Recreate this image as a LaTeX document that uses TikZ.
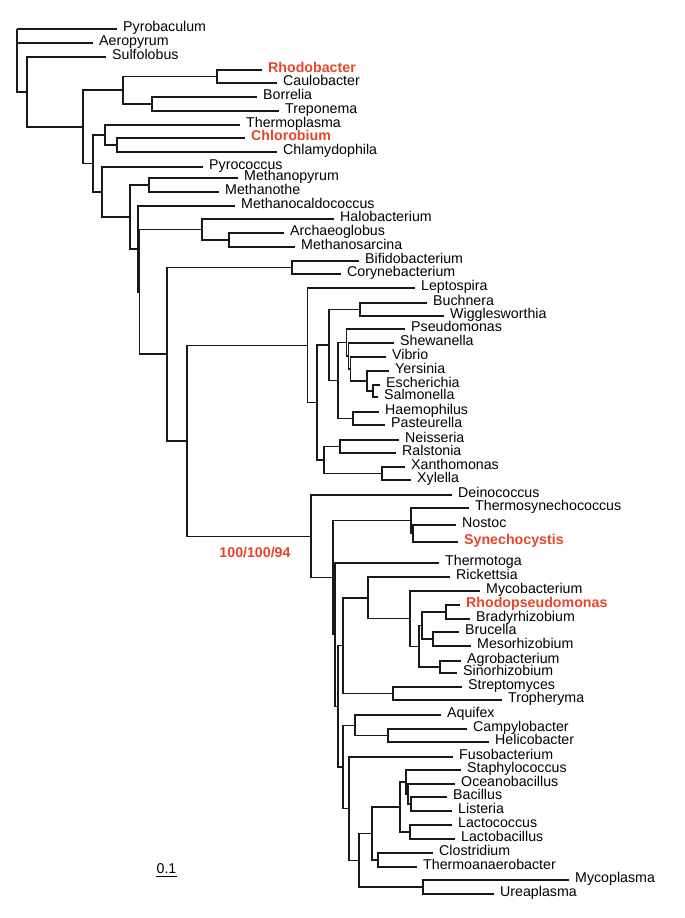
\documentclass[tikz,border=0pt]{standalone}
\usepackage{fontspec}
\setmainfont{Liberation Sans}
\definecolor{tred}{RGB}{232,68,44}
\newcommand\lbl{\fontsize{14.2}{16}\selectfont}
\tikzset{
  br/.style={line width=1.45pt, line join=miter, draw=black!90},
  leaf/.style={anchor=mid west, inner xsep=6pt, inner ysep=0pt, font=\lbl},
  hl/.style={leaf, text=tred, font=\lbl\bfseries},
}
\newcommand\lf[5][leaf]{\node[#1] (#2) at (#4,#3) {#5};}
\begin{document}
\begin{tikzpicture}[x=1pt,y=-1pt]
\useasboundingbox (0,0) rectangle (685,918);
% internal nodes
\coordinate (root) at (17,29);
\coordinate (n27) at (27,91.9);
\coordinate (n83) at (83,126.8);
\coordinate (n123) at (123,90);
\coordinate (n217) at (217,76.5);
\coordinate (n152) at (152,104);
\coordinate (n93) at (93,163.5);
\coordinate (n105) at (105,135);
\coordinate (n117) at (117,145);
\coordinate (n102) at (102,192);
\coordinate (n130) at (130,217);
\coordinate (n149) at (149,185);
\coordinate (nA) at (138,248.9);
\coordinate (nB) at (139.5,291.8);
\coordinate (n202) at (202,229.5);
\coordinate (n229) at (229,240);
\coordinate (n166) at (167,354.2);
\coordinate (n292) at (292,267.5);
\coordinate (n187) at (187,440.8);
\coordinate (n307) at (307.5,345.25);
\coordinate (n317) at (317,402.5);
\coordinate (n329) at (329,345);
\coordinate (n360) at (360,309.5);
\coordinate (n338) at (338,380.5);
\coordinate (na) at (346.5,342.5);
\coordinate (nb) at (348.5,356);
\coordinate (nc) at (350.5,369);
\coordinate (nd) at (367,381);
\coordinate (ne) at (373,391);
\coordinate (n353) at (353,418.5);
\coordinate (n324) at (324,460);
\coordinate (n340) at (340,446.5);
\coordinate (n382) at (382,473.5);
\coordinate (n311) at (311,536.4);
\coordinate (nP) at (333,577.7);
\coordinate (n411) at (411,520.75);
\coordinate (n413) at (413,533.5);
\coordinate (nQ) at (335,634.7);
\coordinate (nL) at (338,706.3);
\coordinate (nK) at (343,645.7);
\coordinate (n368) at (368,597.8);
\coordinate (n410) at (410,618.6);
\coordinate (ni) at (419,646.25);
\coordinate (nj) at (422,625.5);
\coordinate (n446) at (446,612);
\coordinate (n433) at (433,639);
\coordinate (n440) at (440,667);
\coordinate (n393) at (393,693.5);
\coordinate (nM) at (343,766.9);
\coordinate (n355) at (355,725.25);
\coordinate (n388) at (388,735.5);
\coordinate (nN) at (349,808.6);
\coordinate (nO) at (359,860.25);
\coordinate (n372) at (372,833.5);
\coordinate (n400) at (400,807);
\coordinate (nh) at (406,782);
\coordinate (ng) at (408,794);
\coordinate (nf) at (411,804);
\coordinate (nlac) at (410,832);
\coordinate (n378) at (378,860);
\coordinate (n423) at (423,887);
% leaves
\lf{pyro}{29}{117}{Pyrobaculum}
\lf{aero}{43}{93}{Aeropyrum}
\lf{sulfo}{57}{106}{Sulfolobus}
\lf[hl]{rhodob}{70}{262}{Rhodobacter}
\lf{caulo}{83}{277}{Caulobacter}
\lf{borr}{97}{257}{Borrelia}
\lf{trep}{111}{279}{Treponema}
\lf{thermopl}{125}{240}{Thermoplasma}
\lf[hl]{chlorob}{138}{245}{Chlorobium}
\lf{chlamy}{152}{277}{Chlamydophila}
\lf{pyroc}{167}{203}{Pyrococcus}
\lf{methpyr}{178}{238}{Methanopyrum}
\lf{methothe}{192}{219}{Methanothe}
\lf{methcaldo}{206}{235}{Methanocaldococcus}
\lf{halo}{219}{334}{Halobacterium}
\lf{archaeo}{233}{284}{Archaeoglobus}
\lf{methsarc}{247}{295}{Methanosarcina}
\lf{bifido}{261}{359}{Bifidobacterium}
\lf{coryne}{274}{341}{Corynebacterium}
\lf{lepto}{288}{415}{Leptospira}
\lf{buchn}{303}{427}{Buchnera}
\lf{wiggle}{316}{444}{Wigglesworthia}
\lf{pseudo}{329}{405}{Pseudomonas}
\lf{shewa}{343}{394}{Shewanella}
\lf{vibrio}{357}{386}{Vibrio}
\lf{yers}{371}{389}{Yersinia}
\lf{esch}{385}{380}{Escherichia}
\lf{salm}{397}{378}{Salmonella}
\lf{haemo}{412}{379}{Haemophilus}
\lf{paste}{425}{385}{Pasteurella}
\lf{neiss}{440}{399}{Neisseria}
\lf{ralst}{453}{396}{Ralstonia}
\lf{xantho}{467}{405}{Xanthomonas}
\lf{xylella}{480}{411}{Xylella}
\lf{deino}{495}{452}{Deinococcus}
\lf{thermosyn}{508}{469}{Thermosynechococcus}
\lf{nostoc}{525}{456}{Nostoc}
\lf[hl]{synecho}{542}{458}{Synechocystis}
\lf{thermotoga}{563}{439}{Thermotoga}
\lf{ricket}{577}{450}{Rickettsia}
\lf{mycobact}{591}{480}{Mycobacterium}
\lf[hl]{rhodops}{605}{460}{Rhodopseudomonas}
\lf{bradyr}{619}{470}{Bradyrhizobium}
\lf{brucella}{632}{459}{Brucella}
\lf{mesorh}{646}{471}{Mesorhizobium}
\lf{agrob}{661}{461}{Agrobacterium}
\lf{sinorh}{673}{457}{Sinorhizobium}
\lf{strepto}{687}{462}{Streptomyces}
\lf{trophe}{700}{502}{Tropheryma}
\lf{aquifex}{715}{441}{Aquifex}
\lf{campy}{729}{467}{Campylobacter}
\lf{helico}{742}{489}{Helicobacter}
\lf{fuso}{757}{453}{Fusobacterium}
\lf{staph}{770}{461}{Staphylococcus}
\lf{oceano}{784}{455}{Oceanobacillus}
\lf{bacillus}{797}{447}{Bacillus}
\lf{listeria}{811}{452}{Listeria}
\lf{lactoc}{825}{452}{Lactococcus}
\lf{lactob}{839}{455}{Lactobacillus}
\lf{clostr}{853}{433}{Clostridium}
\lf{thermoan}{867}{417}{Thermoanaerobacter}
\lf{mycopl}{880}{569}{Mycoplasma}
\lf{ureapl}{894}{494}{Ureaplasma}
% edges
\foreach \p/\c in {root/n27,n27/n83,n83/n123,n83/n93,n123/n217,n123/n152,
  n93/n105,n93/n102,n105/n117,n102/n130,n130/n149,n130/nA,nA/nB,nB/n202,nB/n166,
  n202/n229,n166/n292,n166/n187,n187/n307,n187/n311,n307/n317,n317/n329,n317/n324,
  n329/n360,n329/n338,n338/na,n338/n353,na/nb,nb/nc,nc/nd,nd/ne,n324/n340,n324/n382,
  n311/nP,nP/n411,nP/nQ,n411/n413,nQ/nL,nL/nK,nL/nM,nK/n368,nK/n393,n368/n410,
  n410/ni,ni/nj,ni/n440,nj/n446,nj/n433,nM/n355,nM/nN,n355/n388,nN/nO,nO/n372,
  nO/n423,n372/n400,n372/n378,n400/nh,n400/nlac,nh/ng,ng/nf}
  {\draw[br] (\p) |- (\c);}
\foreach \p/\c in {root/pyro,root/aero,n27/sulfo,n217/rhodob,n217/caulo,n152/borr,
  n152/trep,n105/thermopl,n117/chlorob,n117/chlamy,n102/pyroc,n149/methpyr,
  n149/methothe,nA/methcaldo,n202/halo,n229/archaeo,n229/methsarc,n292/bifido,
  n292/coryne,n307/lepto,n360/buchn,n360/wiggle,na/pseudo,nb/shewa,nc/vibrio,
  nd/yers,ne/esch,ne/salm,n353/haemo,n353/paste,n340/neiss,n340/ralst,
  n382/xantho,n382/xylella,n311/deino,n411/thermosyn,n413/nostoc,n413/synecho,
  nQ/thermotoga,n368/ricket,n410/mycobact,n446/rhodops,n446/bradyr,n433/brucella,
  n433/mesorh,n440/agrob,n440/sinorh,n393/strepto,n393/trophe,n355/aquifex,
  n388/campy,n388/helico,nN/fuso,nh/staph,ng/oceano,nf/bacillus,nf/listeria,
  nlac/lactoc,nlac/lactob,n378/clostr,n378/thermoan,n423/mycopl,n423/ureapl}
  {\draw[br] (\p) |- (\c.mid west);}
% bootstrap label
\node[font=\lbl\bfseries, text=tred, inner sep=0pt] (boot) at (255,552) {100/100/94};
% scale bar
\node[font=\lbl, inner sep=0pt] (scl) at (166.5,869) {0.1};
\draw[line width=0.9pt] ([yshift=-3pt]scl.base west) -- ([yshift=-3pt]scl.base east);
\end{tikzpicture}
\end{document}
